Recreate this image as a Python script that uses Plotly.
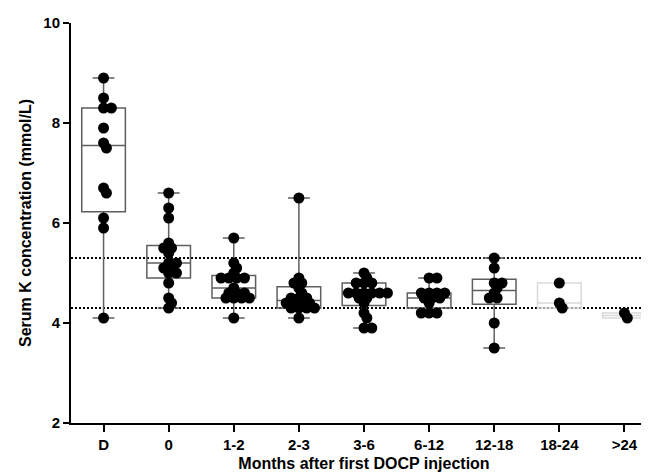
import math
import numpy as np
import plotly.graph_objects as go

# ---- data ----
categories = ["D", "0", "1-2", "2-3", "3-6", "6-12", "12-18", "18-24", ">24"]
g_D = [8.9, 8.5, 8.3, 8.3, 7.9, 7.6, 7.5, 6.7, 6.6, 6.1, 5.9, 4.1]
g_0 = [6.6, 6.3, 6.1, 5.6, 5.5, 5.5, 5.4, 5.2, 5.2, 5.1, 5.1, 5.0, 5.0, 4.8, 4.5, 4.4, 4.3]
g_1_2 = [5.7, 5.2, 5.1, 5.0, 4.9, 4.9, 4.9, 4.9, 4.7, 4.6, 4.6, 4.6, 4.5, 4.5, 4.5, 4.5, 4.1]
g_2_3 = [6.5, 4.9, 4.8, 4.8, 4.7, 4.6, 4.5, 4.5, 4.5, 4.4, 4.4, 4.4, 4.4, 4.3, 4.3, 4.3, 4.3, 4.1]
g_3_6 = [5.0, 4.9, 4.8, 4.8, 4.8, 4.6, 4.6, 4.6, 4.6, 4.6, 4.6, 4.5, 4.5, 4.4, 4.2, 4.1, 3.9, 3.9]
g_6_12 = [4.9, 4.9, 4.6, 4.6, 4.6, 4.6, 4.5, 4.5, 4.5, 4.4, 4.2, 4.2, 4.2]
g_12_18 = [5.3, 5.1, 4.8, 4.8, 4.7, 4.6, 4.5, 4.5, 4.0, 3.5]
g_18_24 = [4.8, 4.4, 4.3]
g_24 = [4.2, 4.1]
groups = [g_D, g_0, g_1_2, g_2_3, g_3_6, g_6_12, g_12_18, g_18_24, g_24]

ref_low = 4.3
ref_high = 5.3
y_ticks = [2, 4, 6, 8, 10]

# ---- layout constants ----
W, H = 649, 472
ML, MR, MT, MB = 63, 0, 15, 57
X_RANGE = [-0.5, len(categories) - 0.5]
Y_RANGE = [2, 10]
PX_X = (W - ML - MR) / (X_RANGE[1] - X_RANGE[0])
PX_Y = (H - MT - MB) / (Y_RANGE[1] - Y_RANGE[0])
DOT = 11
SPACING = 7.8   # horizontal spacing of dots in the same row (px)
KY = 1.45       # vertical weight of the collision ellipse


def swarm(vals, dist=SPACING, ky=KY):
    placed = []
    offs = [0.0] * len(vals)
    order = sorted(range(len(vals)), key=lambda i: -vals[i])
    for i in order:
        y = vals[i] * PX_Y
        cands = [0.0]
        for px, py in placed:
            dy = abs(py - y) * ky
            if dy < dist:
                dx = math.sqrt(dist * dist - dy * dy)
                cands += [px + dx + 0.01, px - dx - 0.01]
        cands.sort(key=lambda c: (round(abs(c), 3), -c))
        for c in cands:
            if all((c - px) ** 2 + ((y - py) * ky) ** 2 >= dist * dist - 1e-6
                   for px, py in placed):
                offs[i] = c
                placed.append((c, y))
                break
    return [o / PX_X for o in offs]


fig = go.Figure()

for xi, vals in enumerate(groups):
    arr = np.array(vals)
    q1, med, q3 = np.percentile(arr, [25, 50, 75], method="weibull")
    faint = len(vals) < 4
    col = "#d9d9d9" if faint else "#5f5f5f"
    fig.add_trace(go.Box(
        x=[xi], q1=[q1], median=[med], q3=[q3],
        lowerfence=[arr.min()], upperfence=[arr.max()],
        width=0.67, whiskerwidth=0.5,
        line=dict(color=col, width=1.5),
        fillcolor="rgba(0,0,0,0)",
        boxpoints=False, hoverinfo="skip", showlegend=False,
    ))

for xi, vals in enumerate(groups):
    offs = swarm(vals)
    fig.add_trace(go.Scatter(
        x=[xi + o for o in offs], y=vals, mode="markers",
        marker=dict(color="black", size=DOT, line=dict(width=0)),
        showlegend=False, hoverinfo="skip", cliponaxis=False,
    ))

for v in (ref_low, ref_high):
    fig.add_shape(type="line", xref="paper", yref="y", x0=0, x1=1, y0=v, y1=v,
                  line=dict(color="black", width=2, dash="2px,2px"), layer="below")

bold = dict(family="Liberation Sans, Arial, sans-serif", color="black", weight="bold")

fig.update_layout(
    width=W, height=H,
    margin=dict(l=ML, r=MR, t=MT, b=MB),
    paper_bgcolor="white", plot_bgcolor="white",
    showlegend=False,
)
fig.update_xaxes(
    range=X_RANGE, tickmode="array", tickvals=list(range(len(categories))),
    ticktext=categories, showgrid=False, zeroline=False,
    showline=True, linecolor="black", linewidth=2,
    ticks="outside", ticklen=7, tickwidth=2, tickcolor="black",
    tickfont=dict(size=15, **bold),
    title=dict(text="Months after first DOCP injection", font=dict(size=16, **bold), standoff=6),
)
fig.update_yaxes(
    range=Y_RANGE, tickmode="array", tickvals=y_ticks,
    showgrid=False, zeroline=False,
    showline=True, linecolor="black", linewidth=2,
    ticks="outside", ticklen=6, tickwidth=2, tickcolor="black",
    tickfont=dict(size=15, **bold),
    title=dict(text="Serum K concentration (mmol/L)", font=dict(size=16, **bold), standoff=8),
)

fig.write_html("out.html")
